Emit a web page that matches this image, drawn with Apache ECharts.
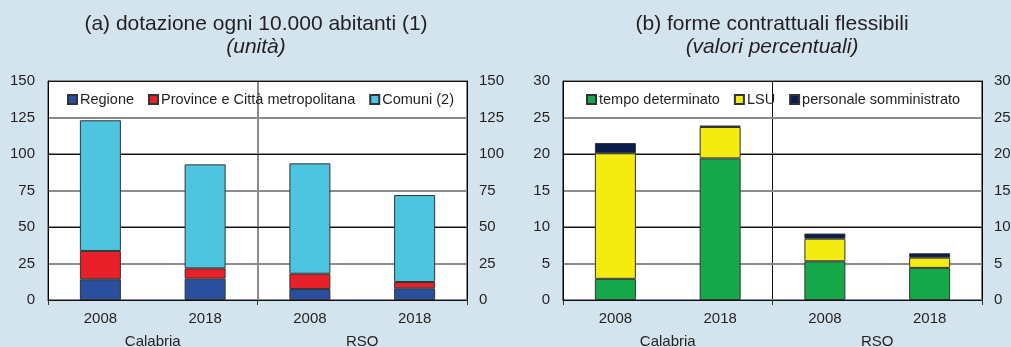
<!DOCTYPE html>
<html>
<head>
<meta charset="utf-8">
<script src="https://cdn.jsdelivr.net/npm/echarts@6/dist/echarts.min.js"></script>
<style>
  html, body { margin: 0; padding: 0; background: #d3e4ee; }
  #chart { width: 1011px; height: 347px; }
</style>
</head>
<body>
<div id="chart"></div>
<script>
// Categories
const years = ['2008', '2018', '2008', '2018'];
const groups = ['Calabria', 'RSO'];

// Panel (a): staff per 10,000 inhabitants
const regione = [14.2, 14.6, 7.5, 8.0];
const province = [19.4, 7.1, 10.5, 4.3];
const comuni = [89.5, 71.2, 75.6, 59.6];

// Panel (b): flexible contract shares (%)
const tempoDeterminato = [2.9, 19.4, 5.3, 4.4];
const lsu = [17.2, 4.3, 3.1, 1.4];
const somministrato = [1.4, 0.2, 0.7, 0.6];

// Axis ticks
const ticksA = { min: 0, max: 150, step: 25, major: 50 };
const ticksB = { min: 0, max: 30, step: 5, major: 10 };

const FONT = "'Liberation Sans', Arial, sans-serif";
const TXT = '#231f20';

const chart = echarts.init(document.getElementById('chart'), null, { renderer: 'canvas' });

function gridAxes(gi, t, sepColor, sepWidth) {
  const x = [
    {
      gridIndex: gi, type: 'category', data: years, position: 'bottom',
      axisLine: { show: true, lineStyle: { color: '#000', width: 1 } },
      axisTick: { show: false },
      axisLabel: { fontFamily: FONT, fontSize: 15, color: TXT, margin: 11 },
      splitLine: { show: false }, z: 1
    },
    {
      gridIndex: gi, type: 'category', data: groups, position: 'bottom',
      axisLine: { show: false },
      axisTick: { show: true, length: 5, lineStyle: { color: '#333', width: 1 } },
      axisLabel: { fontFamily: FONT, fontSize: 15, color: TXT, margin: 34 },
      splitLine: { show: true, lineStyle: { color: sepColor, width: sepWidth } }, z: 0
    }
  ];
  const y = [
    {
      gridIndex: gi, type: 'value', position: 'left', min: t.min, max: t.max, interval: t.step,
      axisLine: { show: true, lineStyle: { color: '#000', width: 1 } },
      axisTick: { show: false },
      axisLabel: { fontFamily: FONT, fontSize: 15, color: TXT, margin: 13 },
      splitLine: { show: true, lineStyle: { color: '#8c8c8c', width: 2 } }, z: 1
    },
    {
      gridIndex: gi, type: 'value', position: 'right', min: t.min, max: t.max, interval: t.step,
      axisLine: { show: true, lineStyle: { color: '#000', width: 1 } },
      axisTick: { show: false },
      axisLabel: { fontFamily: FONT, fontSize: 15, color: TXT, margin: 12 },
      splitLine: { show: false }, z: 1
    },
    {
      gridIndex: gi, type: 'value', position: 'left', min: t.min, max: t.max, interval: t.major,
      axisLine: { show: false }, axisTick: { show: false }, axisLabel: { show: false },
      splitLine: { show: true, lineStyle: { color: '#111', width: 1 } }, z: 2
    }
  ];
  return { x, y };
}

const a = gridAxes(0, ticksA, '#8c8c8c', 2);
const b = gridAxes(1, ticksB, '#111', 1);

function bar(name, data, color, xi, yi, stack) {
  return {
    name, type: 'bar', data, stack, xAxisIndex: xi, yAxisIndex: yi,
    barWidth: 41,
    itemStyle: { color, borderColor: '#333', borderWidth: 1 },
    emphasis: { disabled: true },
    z: 3
  };
}

const legendBase = {
  top: 92, padding: 0, itemWidth: 9, itemHeight: 9, itemGap: 14, icon: 'rect',
  textStyle: { fontFamily: FONT, fontSize: 14.5, color: TXT, padding: [0, 0, 0, -2] },
  selectedMode: false
};

const gridBase = {
  top: 81, width: 419, height: 219, show: true,
  backgroundColor: '#fff', borderColor: '#000', borderWidth: 1,
  containLabel: false, outerBoundsMode: 'none'
};

chart.setOption({
  animation: false,
  backgroundColor: '#d3e4ee',
  grid: [
    Object.assign({}, gridBase, { left: 48 }),
    Object.assign({}, gridBase, { left: 563 })
  ],
  xAxis: [...a.x, ...b.x],
  yAxis: [...a.y, ...b.y],
  legend: [
    Object.assign({}, legendBase, { left: 67, data: ['Regione', 'Province e Città metropolitana', 'Comuni (2)'] }),
    Object.assign({}, legendBase, { left: 586, data: ['tempo determinato', 'LSU', 'personale somministrato'] })
  ],
  series: [
    bar('Regione', regione, '#2a4f9e', 0, 0, 'a'),
    bar('Province e Città metropolitana', province, '#e8202a', 0, 0, 'a'),
    bar('Comuni (2)', comuni, '#4dc5e0', 0, 0, 'a'),
    bar('tempo determinato', tempoDeterminato, '#14a84b', 2, 3, 'b'),
    bar('LSU', lsu, '#f4eb10', 2, 3, 'b'),
    bar('personale somministrato', somministrato, '#0b1d4d', 2, 3, 'b')
  ],
  graphic: [
    { type: 'text', x: 256, y: 24, style: { text: '(a) dotazione ogni 10.000 abitanti (1)', align: 'center', verticalAlign: 'middle', font: '21px ' + FONT, fill: TXT } },
    { type: 'text', x: 256, y: 47, style: { text: '(unità)', align: 'center', verticalAlign: 'middle', font: 'italic 21px ' + FONT, fill: TXT } },
    { type: 'text', x: 772, y: 24, style: { text: '(b) forme contrattuali flessibili', align: 'center', verticalAlign: 'middle', font: '21px ' + FONT, fill: TXT } },
    { type: 'text', x: 772, y: 47, style: { text: '(valori percentuali)', align: 'center', verticalAlign: 'middle', font: 'italic 21px ' + FONT, fill: TXT } }
  ]
});
</script>
</body>
</html>
